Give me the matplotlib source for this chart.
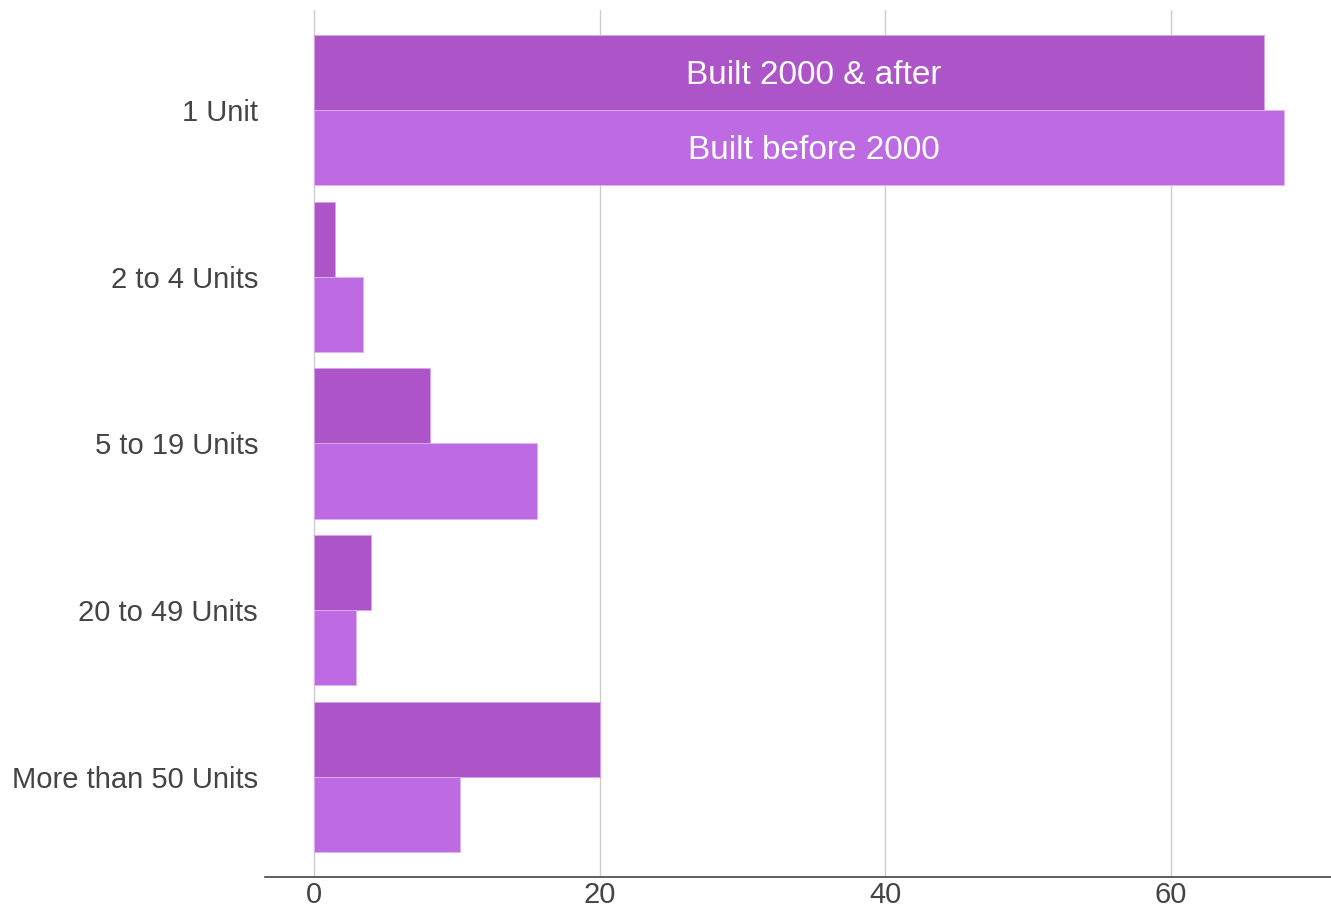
import numpy as np
import matplotlib.pyplot as plt

plt.rcParams['font.family'] = ['Liberation Sans', 'DejaVu Sans']

categories = ['1 Unit', '2 to 4 Units', '5 to 19 Units', '20 to 49 Units', 'More than 50 Units']
built_after = [66.5, 1.5, 8.1, 4.0, 20.0]
built_before = [67.9, 3.45, 15.6, 2.95, 10.2]
series_names = ['Built 2000 & after', 'Built before 2000']
xticks = [0, 20, 40, 60]

c_after = '#ad55c8'
c_before = '#bd6ae3'

fig = plt.figure(figsize=(13.31, 9.09), dpi=100)
ax = fig.add_axes([265/1331, 32/909, 1 - 265/1331, 867/909])

y = np.arange(len(categories))
h = 0.45
ax.barh(y - h/2, built_after, height=h, color=c_after, edgecolor='#d9a6ea', linewidth=0.6)
ax.barh(y + h/2, built_before, height=h, color=c_before, edgecolor='#e0b3f0', linewidth=0.6)

# labels on the first group only
ax.text(35, y[0] - h/2 + 0.015, series_names[0], color='white', fontsize=24, ha='center', va='center')
ax.text(35, y[0] + h/2 + 0.015, series_names[1], color='white', fontsize=24, ha='center', va='center')

ax.set_ylim(4.6, -0.6)
ax.set_xlim(-3.43, 71.2)
ax.set_yticks(y)
ax.set_yticklabels(categories)
ax.set_xticks(xticks)
ax.tick_params(axis='both', length=0, labelsize=21, labelcolor='#444444')
ax.tick_params(axis='y', pad=5)
ax.tick_params(axis='x', pad=3)

ax.grid(axis='x', color='#cccccc', linewidth=1)
ax.set_axisbelow(True)
for s in ['top', 'right', 'left']:
    ax.spines[s].set_visible(False)
ax.spines['bottom'].set_color('#444444')
ax.spines['bottom'].set_linewidth(1.2)

fig.savefig('out.png', dpi=100)
